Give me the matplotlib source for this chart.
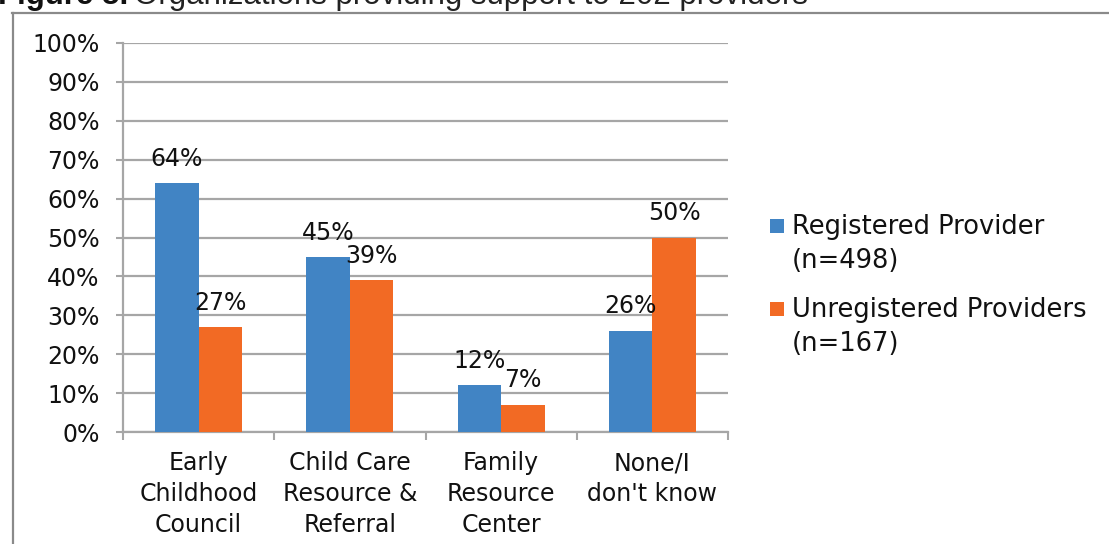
import matplotlib
matplotlib.use("Agg")
import matplotlib.pyplot as plt
from matplotlib.lines import Line2D
from matplotlib.patches import Rectangle
import numpy as np

categories = ["Early\nChildhood\nCouncil", "Child Care\nResource &\nReferral",
              "Family\nResource\nCenter", "None/I\ndon't know"]
registered = [64, 45, 12, 26]
unregistered = [27, 39, 7, 50]
series_names = ["Registered Provider\n(n=498)", "Unregistered Providers\n(n=167)"]
y_ticks = list(range(0, 101, 10))

BLUE = "#4184C4"
ORANGE = "#F26A24"
GRID = "#A6A6A6"
TEXT = "#111111"
FONT = "DejaVu Sans"

W, H = 1109, 544
fig = plt.figure(figsize=(W / 100, H / 100), dpi=100)


def fx(px):
    return px / W


def fy(py):
    return 1 - py / H


# Outer frame (left and top edges)
fig.add_artist(Line2D([fx(12.5), fx(12.5)], [0, fy(13)], transform=fig.transFigure,
                      color="#8A8A8A", lw=1.6))
fig.add_artist(Line2D([fx(12), fx(1108)], [fy(13), fy(13)], transform=fig.transFigure,
                      color="#8A8A8A", lw=1.6))

# Caption running off the top edge: bold lead-in followed by regular text
cap_bold = fig.text(fx(-2), fy(4), "Figure 5.", fontsize=22.5, fontweight="bold",
                    family="Liberation Sans", va="baseline", ha="left", color=TEXT)
fig.canvas.draw()
bb = cap_bold.get_window_extent(fig.canvas.get_renderer())
fig.text(fx(bb.x1 + 6), fy(4), "Organizations providing support to 202 providers",
         fontsize=22.5, family="Liberation Sans", va="baseline", ha="left", color="#222222")

ax = fig.add_axes([fx(123), fy(432), fx(728 - 123), (432 - 43) / H])
x = np.arange(len(categories))
bw = 0.288
b1 = ax.bar(x - bw / 2, registered, bw, color=BLUE, zorder=3)
b2 = ax.bar(x + bw / 2, unregistered, bw, color=ORANGE, zorder=3)

for bars, vals in ((b1, registered), (b2, unregistered)):
    for rect, v in zip(bars, vals):
        ax.annotate(f"{v}%", (rect.get_x() + rect.get_width() / 2, v),
                    xytext=(0, 12.5), textcoords="offset points", ha="center",
                    va="baseline", fontsize=17, family=FONT, color=TEXT, zorder=4)

ax.set_xlim(-0.5, len(categories) - 0.5)
ax.set_ylim(0, 100)
ax.set_yticks(y_ticks)
ax.set_yticklabels([f"{t}%" for t in y_ticks], fontsize=17, family=FONT, color=TEXT)
ax.set_xticks(x)
ax.set_xticklabels(categories, fontsize=17, family=FONT, color=TEXT, linespacing=1.35)
ax.set_xticks(np.arange(-0.5, len(categories), 1.0), minor=True)
ax.tick_params(axis="x", which="major", length=0, pad=14)
ax.tick_params(axis="x", which="minor", length=6, width=1.5, color=GRID, direction="out")
ax.tick_params(axis="y", length=5, width=1.5, color=GRID, pad=12)

ax.grid(axis="y", color=GRID, lw=1.6, zorder=0)
for s in ("top", "right"):
    ax.spines[s].set_visible(False)
for s in ("left", "bottom"):
    ax.spines[s].set_color(GRID)
    ax.spines[s].set_linewidth(1.6)

# Legend: colour square beside the first line of each two-line label
legend_rows = [(series_names[0], BLUE, 219), (series_names[1], ORANGE, 302)]
for label, color, top in legend_rows:
    fig.add_artist(Rectangle((fx(770), fy(top + 14)), fx(14), 14 / H,
                             transform=fig.transFigure, facecolor=color, edgecolor="none"))
    fig.text(fx(792), fy(top - 5), label, fontsize=18.5, family=FONT, color=TEXT,
             va="top", ha="left", linespacing=1.42)

fig.savefig("out.png", dpi=100)
